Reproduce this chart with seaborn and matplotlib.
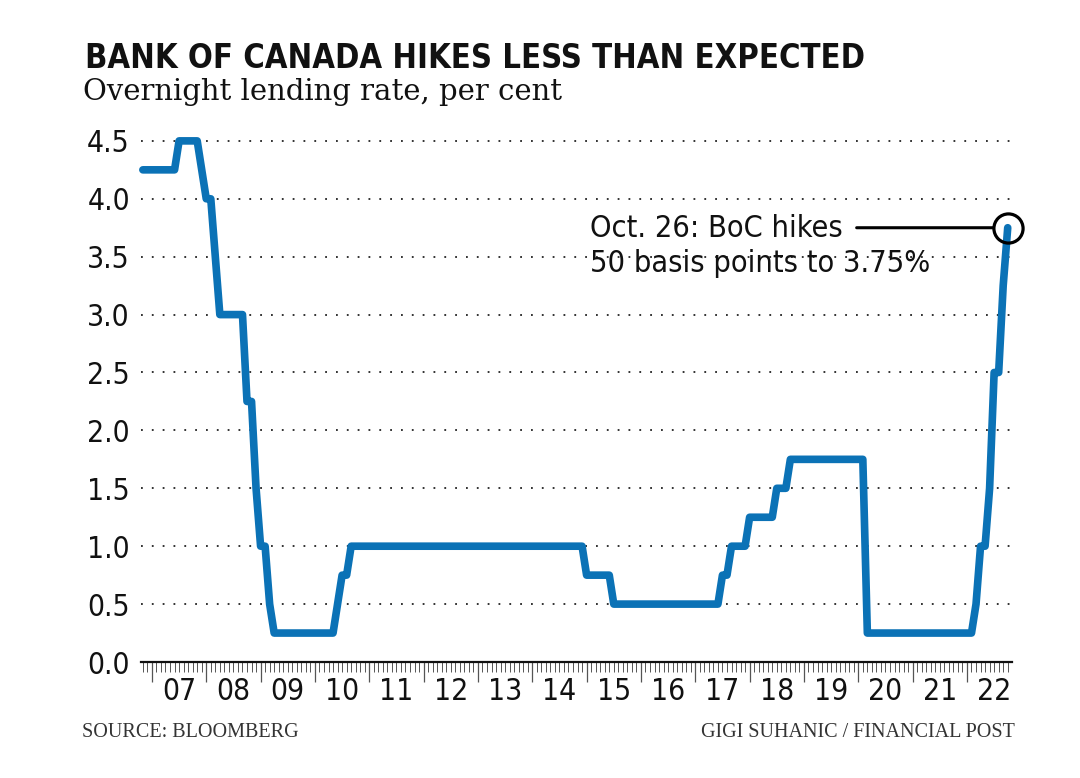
import numpy as np
import pandas as pd
import matplotlib
matplotlib.use("Agg")
import matplotlib.pyplot as plt
import seaborn as sns
from matplotlib.ticker import MultipleLocator

# Bank of Canada overnight rate, month-end values, Nov 2006 - Oct 2022
rates_2006 = [4.25, 4.25]  # Nov, Dec
rates_2007 = [4.25, 4.25, 4.25, 4.25, 4.25, 4.25, 4.5, 4.5, 4.5, 4.5, 4.5, 4.25]
rates_2008 = [4.0, 4.0, 3.5, 3.0, 3.0, 3.0, 3.0, 3.0, 3.0, 2.25, 2.25, 1.5]
rates_2009 = [1.0, 1.0, 0.5, 0.25, 0.25, 0.25, 0.25, 0.25, 0.25, 0.25, 0.25, 0.25]
rates_2010 = [0.25, 0.25, 0.25, 0.25, 0.25, 0.5, 0.75, 0.75, 1.0, 1.0, 1.0, 1.0]
rates_2011 = [1.0, 1.0, 1.0, 1.0, 1.0, 1.0, 1.0, 1.0, 1.0, 1.0, 1.0, 1.0]
rates_2012 = [1.0, 1.0, 1.0, 1.0, 1.0, 1.0, 1.0, 1.0, 1.0, 1.0, 1.0, 1.0]
rates_2013 = [1.0, 1.0, 1.0, 1.0, 1.0, 1.0, 1.0, 1.0, 1.0, 1.0, 1.0, 1.0]
rates_2014 = [1.0, 1.0, 1.0, 1.0, 1.0, 1.0, 1.0, 1.0, 1.0, 1.0, 1.0, 1.0]
rates_2015 = [0.75, 0.75, 0.75, 0.75, 0.75, 0.75, 0.5, 0.5, 0.5, 0.5, 0.5, 0.5]
rates_2016 = [0.5, 0.5, 0.5, 0.5, 0.5, 0.5, 0.5, 0.5, 0.5, 0.5, 0.5, 0.5]
rates_2017 = [0.5, 0.5, 0.5, 0.5, 0.5, 0.5, 0.75, 0.75, 1.0, 1.0, 1.0, 1.0]
rates_2018 = [1.25, 1.25, 1.25, 1.25, 1.25, 1.25, 1.5, 1.5, 1.5, 1.75, 1.75, 1.75]
rates_2019 = [1.75, 1.75, 1.75, 1.75, 1.75, 1.75, 1.75, 1.75, 1.75, 1.75, 1.75, 1.75]
rates_2020 = [1.75, 1.75, 0.25, 0.25, 0.25, 0.25, 0.25, 0.25, 0.25, 0.25, 0.25, 0.25]
rates_2021 = [0.25, 0.25, 0.25, 0.25, 0.25, 0.25, 0.25, 0.25, 0.25, 0.25, 0.25, 0.25]
rates_2022 = [0.25, 0.25, 0.5, 1.0, 1.0, 1.5, 2.5, 2.5, 3.25, 3.75]  # Jan - Oct

year_labels = ['07', '08', '09', '10', '11', '12', '13', '14',
               '15', '16', '17', '18', '19', '20', '21', '22']
y_ticks = [0.0, 0.5, 1.0, 1.5, 2.0, 2.5, 3.0, 3.5, 4.0, 4.5]

title = "BANK OF CANADA HIKES LESS THAN EXPECTED"
subtitle = "Overnight lending rate, per cent"
note_1 = "Oct. 26: BoC hikes"
note_2 = "50 basis points to 3.75%"
source = "SOURCE: BLOOMBERG"
credit = "GIGI SUHANIC / FINANCIAL POST"

rates = (rates_2006 + rates_2007 + rates_2008 + rates_2009 + rates_2010 + rates_2011
         + rates_2012 + rates_2013 + rates_2014 + rates_2015 + rates_2016 + rates_2017
         + rates_2018 + rates_2019 + rates_2020 + rates_2021 + rates_2022)
dates = pd.date_range("2006-11-01", periods=len(rates), freq="MS")
df = pd.DataFrame({"t": dates.year + (dates.month - 1) / 12, "rate": rates})

BLUE = "#0b72b6"

sns.set_style("white")
# DejaVu Sans Condensed for the chart text
plt.rcParams['font.family'] = ["DejaVu Sans"]
plt.rcParams['font.stretch'] = "condensed"

fig = plt.figure(figsize=(10.8, 7.78), dpi=100)
ax = fig.add_axes([0.1306, 0.1491, 0.8065, 0.6847])

sns.lineplot(data=df, x="t", y="rate", ax=ax, color=BLUE, lw=5.5,
             solid_capstyle="round", solid_joinstyle="round", clip_on=False, zorder=3)

ax.set_xlim(2006.80, 2022.83)
ax.set_ylim(0, 4.6)
ax.set_xlabel("")
ax.set_ylabel("")

# y axis: dotted grid, no ticks
ax.set_yticks(y_ticks, [f"{v:.1f}" for v in y_ticks])
ax.tick_params(axis="y", length=0, pad=8, labelsize=21.5, labelcolor="#111")
ax.yaxis.grid(True, linestyle=(0, (1, 5)), color="#222", lw=1.3)
ax.xaxis.grid(False)

for s in ["top", "right", "left"]:
    ax.spines[s].set_visible(False)
ax.spines["bottom"].set_color("#111")
ax.spines["bottom"].set_linewidth(1.6)

# x axis: monthly minor ticks, yearly major ticks, labels centred in the year
ax.xaxis.set_major_locator(MultipleLocator(1))
ax.xaxis.set_minor_locator(MultipleLocator(1 / 12))
ax.tick_params(axis="x", which="both", bottom=True)
ax.tick_params(axis="x", which="major", length=14.5, width=0.9, color="#555",
               labelbottom=False)
ax.tick_params(axis="x", which="minor", length=7.2, width=0.7, color="#555")

sec = ax.secondary_xaxis("bottom")
sec.set_xticks([2007.5 + i for i in range(len(year_labels))], year_labels)
sec.tick_params(length=0, pad=11, labelsize=21.5, labelcolor="#111")
sec.spines["bottom"].set_visible(False)

# annotation of the latest hike
last_x, last_y = df["t"].iloc[-1], df["rate"].iloc[-1]
ax.plot(last_x, last_y, "o", ms=21, mfc="none", mec="black", mew=2.3,
        clip_on=False, zorder=5)
ax.annotate("", xy=(last_x, last_y), xytext=(2019.97, last_y),
            arrowprops=dict(arrowstyle="-", lw=2.2, color="black",
                            shrinkA=0, shrinkB=10.5), zorder=4)
ax.text(2015.06, 3.67, note_1, fontsize=22, va="baseline", color="#111")
ax.text(2015.06, 3.368, note_2, fontsize=22, va="baseline", color="#111")

fig.text(85 / 1080, 1 - 68 / 778, title, fontsize=23.5, fontweight="bold",
         va="baseline", color="#111")
fig.text(83 / 1080, 1 - 100 / 778, subtitle, fontsize=21, family=["DejaVu Serif"],
         fontstretch="normal", va="baseline", color="#111")
fig.text(82 / 1080, 1 - 737 / 778, source, fontsize=14.5, family=["Liberation Serif"],
         fontstretch="normal", va="baseline", color="#333")
fig.text(1015 / 1080, 1 - 737 / 778, credit, fontsize=14.5, family=["Liberation Serif"],
         fontstretch="normal", va="baseline", ha="right", color="#333")

fig.savefig("out.png", dpi=100, facecolor="white")
